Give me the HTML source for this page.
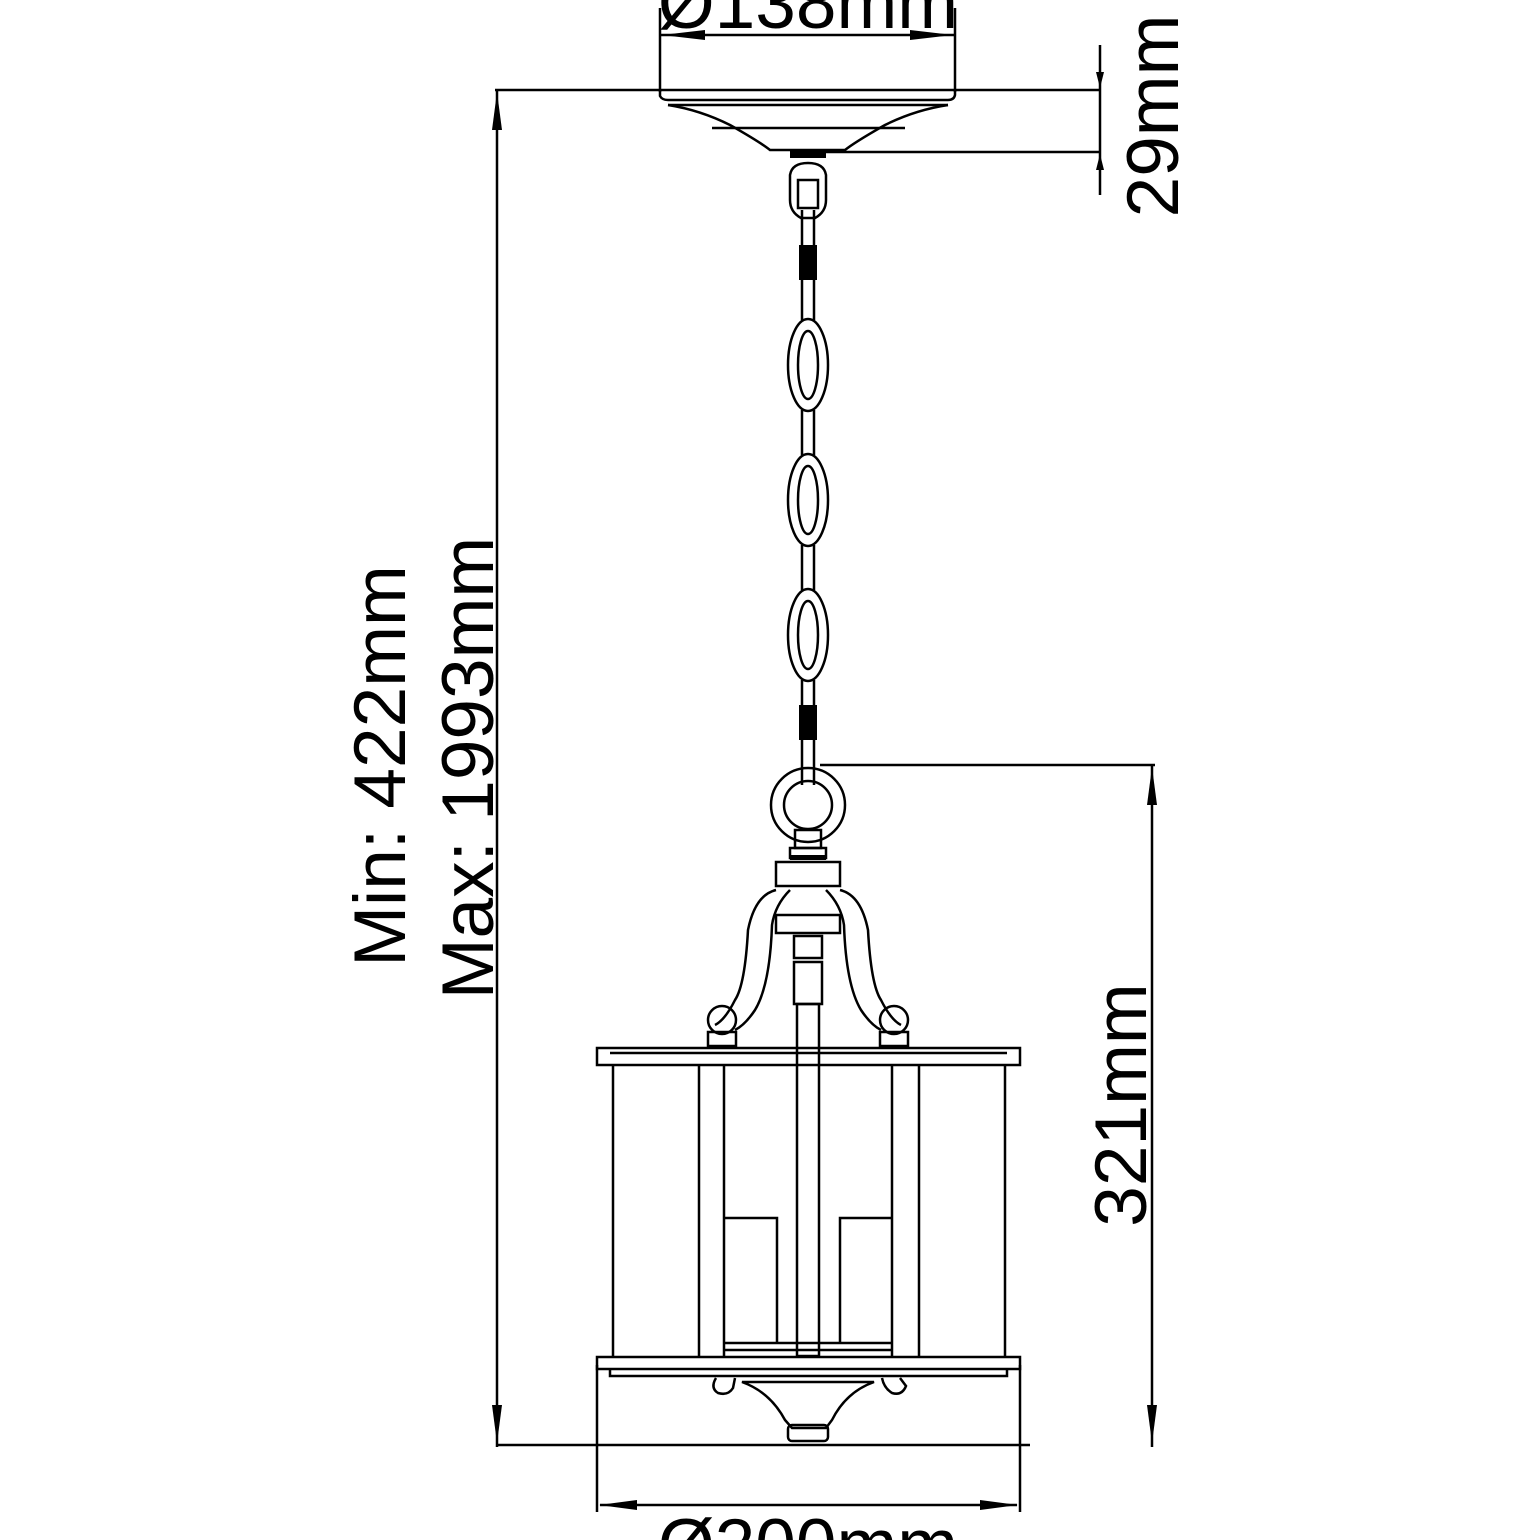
<!DOCTYPE html>
<html><head><meta charset="utf-8"><style>html,body{margin:0;padding:0;background:#fff}svg{display:block}</style></head>
<body>
<svg width="1540" height="1540" viewBox="0 0 1540 1540" xmlns="http://www.w3.org/2000/svg" font-family="Liberation Sans, sans-serif">
<g fill="none" stroke="#000" stroke-width="2.5">
<line x1="660" y1="8" x2="660" y2="92"/>
<line x1="955" y1="8" x2="955" y2="92"/>
<line x1="660" y1="35" x2="955" y2="35"/>
<line x1="495" y1="90" x2="1100" y2="90"/>
<path d="M660 90 L660 96 Q662 100 668 100 L948 100 Q954 100 955 95 L955 90"/>
<line x1="668" y1="105" x2="948" y2="105"/>
<path d="M668 105 Q700 110 730 125 Q760 142 770 150 L845 150 Q855 142 885 125 Q915 110 948 105"/>
<line x1="712" y1="128" x2="905" y2="128"/>
<line x1="808" y1="152" x2="1100" y2="152"/>
<line x1="1100" y1="45" x2="1100" y2="195"/>
<line x1="497" y1="90" x2="497" y2="1447"/>
<line x1="820" y1="765" x2="1155" y2="765"/>
<line x1="1152" y1="765" x2="1152" y2="1447"/>
<line x1="497" y1="1445" x2="1030" y2="1445"/>
<line x1="597" y1="1365" x2="597" y2="1512"/>
<line x1="1020" y1="1365" x2="1020" y2="1512"/>
<line x1="600" y1="1505" x2="1017" y2="1505"/>
<path d="M790 175 Q792 163 808 163 Q824 163 826 175 L826 200 Q826 212 815 218 L801 218 Q790 212 790 200 Z"/>
<rect x="798" y="180" width="20" height="28"/>
<line x1="802" y1="210" x2="802" y2="320"/><line x1="814" y1="210" x2="814" y2="320"/>
<ellipse cx="808" cy="365" rx="20" ry="46"/><ellipse cx="808" cy="365" rx="10" ry="34"/>
<line x1="802" y1="410" x2="802" y2="455"/><line x1="814" y1="410" x2="814" y2="455"/>
<ellipse cx="808" cy="500" rx="20" ry="46"/><ellipse cx="808" cy="500" rx="10" ry="34"/>
<line x1="802" y1="545" x2="802" y2="590"/><line x1="814" y1="545" x2="814" y2="590"/>
<ellipse cx="808" cy="635" rx="20" ry="46"/><ellipse cx="808" cy="635" rx="10" ry="34"/>
<line x1="802" y1="680" x2="802" y2="785"/><line x1="814" y1="680" x2="814" y2="785"/>
<circle cx="808" cy="805" r="37"/><circle cx="808" cy="805" r="24"/>
<rect x="795" y="830" width="26" height="18"/>
<rect x="790" y="848" width="36" height="10"/>
<rect x="776" y="862" width="64" height="24"/>
<path d="M776 890 Q755 895 748 930 Q745 985 735 1000 Q725 1020 715 1025"/>
<path d="M790 890 Q775 905 772 925 Q770 985 755 1010 Q745 1025 735 1030"/>
<path d="M840 890 Q861 895 868 930 Q871 985 881 1000 Q891 1020 901 1025"/>
<path d="M826 890 Q841 905 844 925 Q846 985 861 1010 Q871 1025 881 1030"/>
<rect x="776" y="915" width="64" height="18"/>
<rect x="794" y="936" width="28" height="22"/>
<rect x="794" y="962" width="28" height="42"/>
<rect x="797" y="1004" width="22" height="352"/>
<circle cx="722" cy="1020" r="14"/><rect x="708" y="1032" width="28" height="14"/>
<circle cx="894" cy="1020" r="14"/><rect x="880" y="1032" width="28" height="14"/>
<rect x="597" y="1048" width="423" height="17"/>
<line x1="610" y1="1053" x2="1007" y2="1053"/>
<line x1="613" y1="1065" x2="613" y2="1357"/><line x1="1005" y1="1065" x2="1005" y2="1357"/>
<line x1="699" y1="1065" x2="699" y2="1357"/><line x1="724" y1="1065" x2="724" y2="1357"/>
<line x1="892" y1="1065" x2="892" y2="1357"/><line x1="919" y1="1065" x2="919" y2="1357"/>
<polyline points="724,1218 777,1218 777,1343"/>
<polyline points="892,1218 840,1218 840,1343"/>
<line x1="724" y1="1343" x2="892" y2="1343"/>
<line x1="724" y1="1350" x2="892" y2="1350"/>
<rect x="597" y="1357" width="423" height="12"/>
<path d="M610 1369 L610 1376 L1007 1376 L1007 1369"/>
<path d="M716 1378 Q710 1388 718 1393 Q728 1396 733 1388 L735 1378"/>
<path d="M882 1378 Q884 1388 892 1393 Q902 1396 906 1386 L900 1378"/>
<path d="M742 1382 Q770 1392 785 1420 L792 1428 L826 1428 L832 1420 Q846 1392 874 1382 Z"/>
<rect x="788" y="1425" width="40" height="16" rx="4"/>
</g>
<g fill="#000">
<polygon points="662,35 705,30 705,40"/>
<polygon points="953,35 910,30 910,40"/>
<polygon points="1100,88 1096,72 1104,72"/>
<polygon points="1100,154 1096,170 1104,170"/>
<polygon points="497,92 492,130 502,130"/>
<polygon points="497,1443 492,1405 502,1405"/>
<polygon points="1152,767 1147,805 1157,805"/>
<polygon points="1152,1443 1147,1405 1157,1405"/>
<polygon points="599,1505 637,1500 637,1510"/>
<polygon points="1018,1505 980,1500 980,1510"/>
<rect x="799" y="245" width="18" height="35"/>
<rect x="799" y="705" width="18" height="35"/>
<rect x="790" y="150" width="36" height="8"/>
<rect x="790" y="855" width="36" height="5"/>
</g>
<g fill="#000" font-size="73">
<text x="808" y="28" text-anchor="middle">Ø138mm</text>
<text x="808" y="1570" text-anchor="middle">Ø200mm</text>
<text transform="translate(1178,116) rotate(-90)" text-anchor="middle">29mm</text>
<text transform="translate(1146,1105) rotate(-90)" text-anchor="middle">321mm</text>
<text transform="translate(405,766) rotate(-90)" text-anchor="middle">Min: 422mm</text>
<text transform="translate(493,768) rotate(-90)" text-anchor="middle">Max: 1993mm</text>
</g>
</svg>
</body></html>
